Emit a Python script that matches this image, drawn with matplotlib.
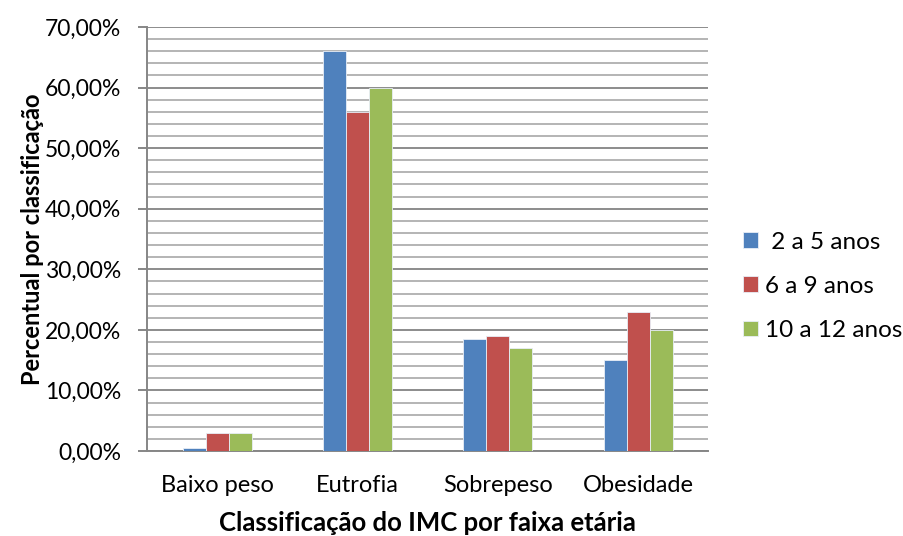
import numpy as np
import matplotlib
matplotlib.use('Agg')
from matplotlib import pyplot as plt
from matplotlib.ticker import MultipleLocator, FuncFormatter

categorias = ['Baixo peso', 'Eutrofia', 'Sobrepeso', 'Obesidade']
faixas = [' 2 a 5 anos', '6 a 9 anos', '10 a 12 anos']
idade_2_5 = [0.55, 66.0, 18.45, 15.0]
idade_6_9 = [3.0, 56.0, 19.0, 23.0]
idade_10_12 = [3.0, 60.0, 17.0, 20.0]
cores = ['#4F81BD', '#C0504D', '#9BBB59']

plt.rcParams['font.family'] = ['Lato', 'DejaVu Sans']

fig = plt.figure(figsize=(9.04, 5.36), dpi=100)
ax = fig.add_axes([0.1626, 0.1586, 0.621, 0.791])

x = np.arange(len(categorias))
largura = 0.164
series = [idade_2_5, idade_6_9, idade_10_12]
for i, (valores, cor, nome) in enumerate(zip(series, cores, faixas)):
    ax.bar(x + (i - 1) * largura, valores, largura, color=cor,
           edgecolor='#e8eef7', linewidth=0.6, label=nome, zorder=3)

ax.set_xlim(-0.5, 3.5)
ax.set_ylim(0, 70)
ax.yaxis.set_major_locator(MultipleLocator(10))
ax.yaxis.set_minor_locator(MultipleLocator(2))
ax.yaxis.set_major_formatter(FuncFormatter(lambda v, p: f'{v:.2f}%'.replace('.', ',')))

# linhas de grade: principais a cada 10%, secundárias a cada 2%
ax.grid(axis='y', which='major', color='#8c8c8c', linewidth=1.4, zorder=0)
ax.grid(axis='y', which='minor', color='#b4b4b4', linewidth=1.4, zorder=0)
ax.set_axisbelow(True)

for lado in ['top', 'right']:
    ax.spines[lado].set_visible(False)
ax.spines['left'].set_color('#868686')
ax.spines['left'].set_linewidth(1.4)
ax.spines['bottom'].set_color('#868686')
ax.spines['bottom'].set_linewidth(1.4)

ax.set_xticks(x)
ax.set_xticklabels(categorias)
ax.tick_params(axis='x', length=0, pad=17, labelsize=17)
ax.tick_params(axis='y', which='major', length=6.5, width=1.4, color='#868686',
               labelsize=16.5, pad=12)
ax.tick_params(axis='y', which='minor', length=0)

ax.set_ylabel('Percentual por classificação', fontsize=17, fontweight='bold', labelpad=1)
ax.set_xlabel('Classificação do IMC por faixa etária', fontsize=18.5, fontweight='bold', labelpad=11)

fig.legend(loc='center left', bbox_to_anchor=(0.822, 0.466), frameon=False,
           borderpad=0, borderaxespad=0,
           fontsize=17.5, handlelength=0.6, handleheight=0.6,
           handletextpad=0.3, labelspacing=0.95)

fig.savefig('out.png', dpi=100)
